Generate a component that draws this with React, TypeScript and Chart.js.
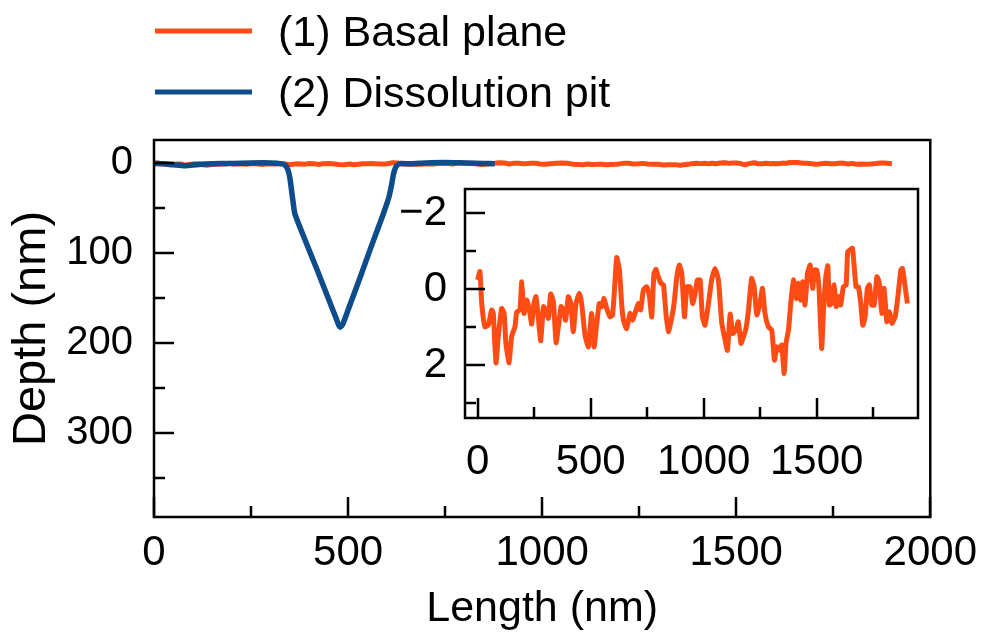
import React, { useEffect, useRef } from "react";
import { Chart, registerables } from "chart.js";

Chart.register(...registerables);

// ---- Data ----
const SERIES_LABELS = ["(1) Basal plane", "(2) Dissolution pit"];
const SERIES_COLORS = ["#ff4b14", "#0e4c8c"];

// Basal plane profile (nm, depth nm)
const BASAL_X = [
  0, 10, 18, 32, 47, 62, 69, 81, 91, 106, 117, 125, 139, 150, 165, 173, 187, 195, 205, 217,
  229, 239, 249, 258, 268, 279, 291, 302, 313, 323, 335, 347, 357, 369, 379, 389, 401, 412, 423, 435,
  450, 460, 475, 490, 504, 515, 527, 538, 549, 559, 571, 586, 597, 608, 615, 627, 637, 645, 659, 674,
  686, 696, 711, 721, 733, 748, 760, 770, 780, 789, 799, 811, 822, 833, 844, 858, 869, 881, 892, 903,
  915, 925, 940, 951, 962, 972, 984, 994, 1006, 1021, 1035, 1050, 1065, 1080, 1094, 1105, 1117, 1128, 1142, 1153,
  1165, 1176, 1187, 1198, 1212, 1223, 1235, 1249, 1260, 1271, 1286, 1301, 1313, 1323, 1335, 1345, 1356, 1364, 1375, 1385,
  1397, 1409, 1419, 1429, 1438, 1448, 1459, 1471, 1482, 1490, 1500, 1510, 1522, 1530, 1540, 1549, 1556, 1566, 1577, 1586,
  1596, 1606, 1618, 1630, 1637, 1648, 1658, 1667, 1674, 1684, 1695, 1704, 1714, 1724, 1733, 1743, 1754, 1766, 1776, 1788,
  1798, 1810, 1822, 1833, 1847, 1859, 1872, 1879, 1889, 1901,
];
const BASAL_Y = [
  -0.24, -0.46, 0.38, 0.99, 0.95, 0.55, 0.64, 1.94, 1.25, 0.51, 0.64, 1.43, 1.94, 1.25, 0.99, 0.6, 0.55, -0.19, 0.64, 0.29,
  0.55, 0.92, 0.38, 0.2, 0.73, 1.36, 0.46, 0.55, 0.77, 0.13, 0.33, 1.41, 0.99, 0.46, 0.55, 0.82, 0.2, 0.38, 1.12, 0.38,
  0.11, 0.38, 1.21, 1.52, 0.64, 1.52, 0.9, 0.38, 0.46, 0.25, 0.51, 0.73, 0.68, -0.24, -0.83, -0.5, 0.38, 0.82, 1.04, 0.64,
  0.82, 0.64, 0.38, 0.55, 0.03, -0.06, 0.2, 0.73, -0.41, -0.52, -0.32, -0.15, -0.11, 0.64, 1.12, 0.77, 0.38, -0.32, -0.63, -0.41,
  0.73, -0.06, -0.06, 0.38, 0.11, -0.24, -0.24, 0.73, 0.95, 0.38, -0.24, -0.54, -0.24, 0.9, 1.32, 1.61, 0.66, 1.17, 1.08, 0.86,
  1.43, 1.25, 1.04, 0.55, -0.28, -0.06, 0.68, 0.38, -0.02, 0.64, 0.99, 1.08, 1.87, 1.52, 1.61, 1.47, 2.22, 1.43, 1.08, 0.38,
  -0.24, 0.25, -0.15, 0.29, -0.19, 0.42, -0.41, -0.63, -0.02, -0.5, -0.5, -0.02, 1.56, 0.55, -0.32, -0.61, 0.42, 0.38, -0.11, 0.46,
  0.2, 0.42, -0.06, -0.11, -0.98, -1.03, -1.07, -0.5, -0.06, -0.06, 0.38, 0.95, 0.73, -0.02, -0.11, 0.42, 0.42, -0.32, -0.19, 0.64,
  -0.02, 0.86, 0.6, 0.9, 0.73, 0.2, -0.5, -0.54, -0.15, 0.38,
];

// Dissolution pit profile (nm, depth nm)
const PIT_X = [
  0, 25, 50, 80, 110, 150, 200, 250, 300, 330, 338, 345, 350, 355, 359, 363, 390, 420, 450, 470,
  476, 480, 486, 500, 530, 560, 590, 605, 612, 617, 622, 628, 636, 660, 700, 750, 800, 850, 878,
];
const PIT_Y = [
  0, 0.5, 1.5, 2.5, 1.5, 0.5, 0, -0.5, -0.5, 0.5, 2, 7, 16, 32, 45, 56, 86, 118, 151, 173,
  180, 182, 179, 163, 128, 92, 57, 38, 24, 12, 5, 1.5, 0, 0.5, -0.5, -1, -0.5, 0, 0.5,
];

// Axes
const MAIN_X_TICKS = [0, 500, 1000, 1500, 2000];
const MAIN_X_MINOR = [250, 750, 1250, 1750];
const MAIN_Y_TICKS = [0, 100, 200, 300];
const MAIN_Y_MINOR = [50, 150, 250, 350];
const INSET_X_TICKS = [0, 500, 1000, 1500];
const INSET_X_MINOR = [250, 750, 1250, 1750];
const INSET_Y_TICKS = [-2, 0, 2];
const INSET_Y_MINOR = [-1, 1, 3];
const X_TITLE = "Length (nm)";
const Y_TITLE = "Depth (nm)";

const FONT = "'Liberation Sans', Arial, Helvetica, sans-serif";

const fmt = (v: number) => (v < 0 ? "\u2212" + Math.abs(v) : String(v));

function makeFramePlugin(cfg: {
  xMajor: number[];
  xMinor: number[];
  yMajor: number[];
  yMinor: number[];
  fill?: boolean;
}) {
  return {
    id: "frameTicks",
    beforeDatasetsDraw(chart: any) {
      if (!cfg.fill) return;
      const { ctx, chartArea: a } = chart;
      ctx.save();
      ctx.fillStyle = "#ffffff";
      ctx.fillRect(a.left, a.top, a.right - a.left, a.bottom - a.top);
      ctx.restore();
    },
    afterDraw(chart: any) {
      const ctx = chart.ctx;
      const a = chart.chartArea;
      const xs = chart.scales.x;
      const ys = chart.scales.y;
      const items: Array<[string, number, number]> = [];
      cfg.xMajor.forEach((v) => items.push(["x", v, 20]));
      cfg.xMinor.forEach((v) => items.push(["x", v, 11]));
      cfg.yMajor.forEach((v) => items.push(["y", v, 20]));
      cfg.yMinor.forEach((v) => items.push(["y", v, 11]));
      ctx.save();
      ctx.strokeStyle = "#000000";
      ctx.lineWidth = 2.5;
      ctx.lineCap = "butt";
      for (const [axis, v, len] of items) {
        ctx.beginPath();
        if (axis === "x") {
          const p = Math.round(xs.getPixelForValue(v));
          ctx.moveTo(p, a.bottom);
          ctx.lineTo(p, a.bottom - len);
        } else {
          const p = Math.round(ys.getPixelForValue(v));
          ctx.moveTo(a.left, p);
          ctx.lineTo(a.left + len, p);
        }
        ctx.stroke();
      }
      ctx.lineWidth = 2.5;
      ctx.strokeRect(a.left, a.top, a.right - a.left, a.bottom - a.top);
      ctx.restore();
    },
  };
}

const legendPlugin = {
  id: "customLegend",
  afterDraw(chart: any) {
    const ctx = chart.ctx;
    ctx.save();
    const rows = [31, 92];
    SERIES_LABELS.forEach((label, i) => {
      const y = rows[i];
      ctx.strokeStyle = SERIES_COLORS[i];
      ctx.lineWidth = 5;
      ctx.beginPath();
      ctx.moveTo(155, y);
      ctx.lineTo(252, y);
      ctx.stroke();
      ctx.fillStyle = "#000";
      ctx.font = `43px ${FONT}`;
      ctx.textBaseline = "middle";
      ctx.textAlign = "left";
      ctx.fillText(label, 278, y + 3);
    });
    ctx.restore();
  },
};

export default function App() {
  const mainRef = useRef<HTMLCanvasElement>(null);
  const insetRef = useRef<HTMLCanvasElement>(null);

  useEffect(() => {
    const basal = BASAL_X.map((x, i) => ({ x, y: BASAL_Y[i] }));
    const pit = PIT_X.map((x, i) => ({ x, y: PIT_Y[i] }));

    const xTickFont = { family: FONT, size: 42 };
    const yTickFont = { family: FONT, size: 40 };
    const insetTickFont = { family: FONT, size: 42 };

    const main = new Chart(mainRef.current as HTMLCanvasElement, {
      type: "line",
      data: {
        datasets: [
          {
            label: SERIES_LABELS[0],
            data: basal,
            borderColor: SERIES_COLORS[0],
            borderWidth: 5,
            pointRadius: 0,
            tension: 0,
            borderJoinStyle: "round",
            order: 1,
          },
          {
            label: SERIES_LABELS[1],
            data: pit,
            borderColor: SERIES_COLORS[1],
            borderWidth: 5.5,
            pointRadius: 0,
            tension: 0.2,
            borderJoinStyle: "round",
            order: 0,
          },
        ],
      },
      options: {
        animation: false,
        responsive: false,
        events: [],
        layout: { padding: { left: 0, top: 140, right: 55, bottom: 0 } },
        plugins: { legend: { display: false }, tooltip: { enabled: false } },
        scales: {
          x: {
            type: "linear",
            min: 0,
            max: 2000,
            grid: { display: false, drawTicks: false },
            border: { display: false },
            ticks: {
              font: xTickFont,
              color: "#000",
              padding: 11,
              maxRotation: 0,
              autoSkip: false,
              callback: (v: any) => fmt(Number(v)),
            },
            afterBuildTicks: (s: any) => {
              s.ticks = MAIN_X_TICKS.map((v) => ({ value: v }));
            },
            afterFit: (s: any) => {
              s.height = 119;
            },
            title: {
              display: true,
              text: X_TITLE,
              font: { family: FONT, size: 43 },
              color: "#000",
              padding: { top: 0, bottom: 1 },
            },
          },
          y: {
            type: "linear",
            reverse: true,
            min: -26,
            max: 393,
            grid: { display: false, drawTicks: false },
            border: { display: false },
            ticks: {
              font: yTickFont,
              color: "#000",
              padding: 21,
              autoSkip: false,
              callback: (v: any) => fmt(Number(v)),
            },
            afterBuildTicks: (s: any) => {
              s.ticks = MAIN_Y_TICKS.map((v) => ({ value: v }));
            },
            afterFit: (s: any) => {
              s.width = 154;
            },
            title: {
              display: true,
              text: Y_TITLE,
              font: { family: FONT, size: 47 },
              color: "#000",
              padding: { top: 4, bottom: 0 },
            },
          },
        },
      } as any,
      plugins: [
        makeFramePlugin({
          xMajor: MAIN_X_TICKS,
          xMinor: MAIN_X_MINOR,
          yMajor: MAIN_Y_TICKS,
          yMinor: MAIN_Y_MINOR,
        }),
        legendPlugin,
      ],
    });

    const inset = new Chart(insetRef.current as HTMLCanvasElement, {
      type: "line",
      data: {
        datasets: [
          {
            label: SERIES_LABELS[0],
            data: basal,
            borderColor: SERIES_COLORS[0],
            borderWidth: 5,
            pointRadius: 0,
            tension: 0.15,
            borderJoinStyle: "round",
          },
        ],
      },
      options: {
        animation: false,
        responsive: false,
        events: [],
        layout: { padding: { left: 0, top: 59, right: 22, bottom: 0 } },
        plugins: { legend: { display: false }, tooltip: { enabled: false } },
        scales: {
          x: {
            type: "linear",
            min: -56,
            max: 1948,
            grid: { display: false, drawTicks: false },
            border: { display: false },
            ticks: {
              font: insetTickFont,
              color: "#000",
              padding: 19,
              maxRotation: 0,
              autoSkip: false,
              callback: (v: any) => fmt(Number(v)),
            },
            afterBuildTicks: (s: any) => {
              s.ticks = INSET_X_TICKS.map((v) => ({ value: v }));
            },
            afterFit: (s: any) => {
              s.height = 72;
            },
          },
          y: {
            type: "linear",
            reverse: true,
            min: -2.63,
            max: 3.39,
            grid: { display: false, drawTicks: false },
            border: { display: false },
            ticks: {
              font: insetTickFont,
              color: "#000",
              padding: 18,
              autoSkip: false,
              callback: (v: any) => fmt(Number(v)),
            },
            afterBuildTicks: (s: any) => {
              s.ticks = INSET_Y_TICKS.map((v) => ({ value: v }));
            },
            afterFit: (s: any) => {
              s.width = 85;
            },
          },
        },
      } as any,
      plugins: [
        makeFramePlugin({
          xMajor: INSET_X_TICKS,
          xMinor: INSET_X_MINOR,
          yMajor: INSET_Y_TICKS,
          yMinor: INSET_Y_MINOR,
          fill: true,
        }),
      ],
    });

    return () => {
      main.destroy();
      inset.destroy();
    };
  }, []);

  return (
    <div
      style={{
        position: "absolute",
        left: 0,
        top: 0,
        width: 988,
        height: 636,
        background: "#fff",
        overflow: "hidden",
      }}
    >
      <canvas
        ref={mainRef}
        width={988}
        height={636}
        style={{ position: "absolute", left: 0, top: 0, width: 988, height: 636 }}
      />
      <canvas
        ref={insetRef}
        width={560}
        height={360}
        style={{ position: "absolute", left: 380, top: 130, width: 560, height: 360 }}
      />
    </div>
  );
}
